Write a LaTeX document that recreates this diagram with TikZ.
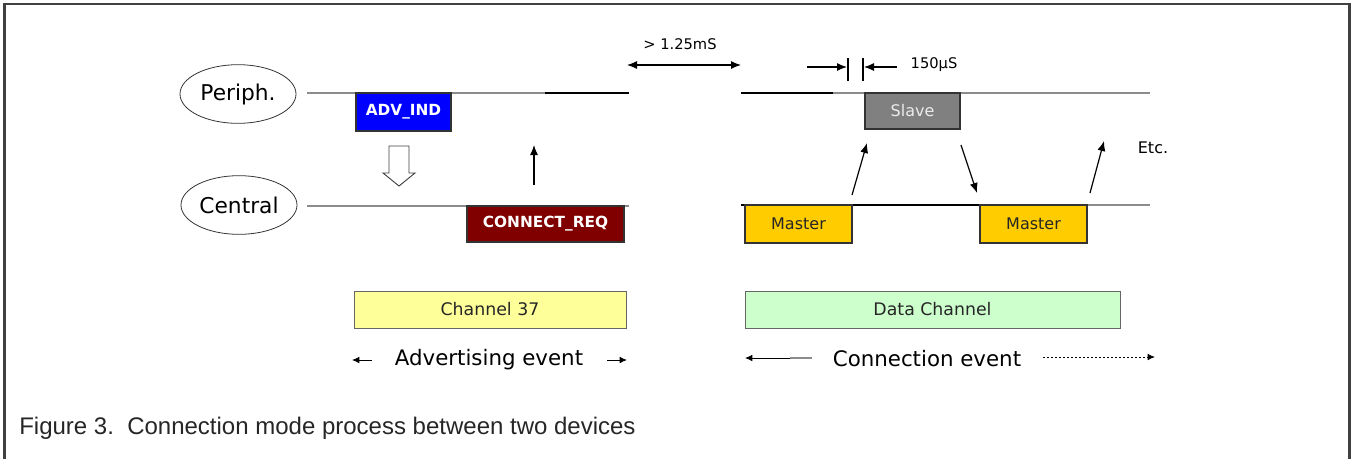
\documentclass[tikz,border=0pt]{standalone}
\usepackage{fontspec}
\setmainfont{DejaVu Sans}
\newfontfamily\capfont{Liberation Sans}
\usetikzlibrary{shapes.geometric,arrows.meta}
\definecolor{frame}{HTML}{404040}
\definecolor{tl}{HTML}{8C8C8C}
\definecolor{advblue}{HTML}{0000FF}
\definecolor{reqred}{HTML}{800000}
\definecolor{slavegray}{HTML}{808080}
\definecolor{mastery}{HTML}{FFCC00}
\definecolor{ch37}{HTML}{FFFF99}
\definecolor{datach}{HTML}{CCFFCC}
\tikzset{
  devell/.style={draw=black!80, ellipse, line width=0.6pt, minimum width=87pt, minimum height=44pt, inner sep=0pt, font=\fontsize{16.3}{18}\selectfont},
  pkt/.style={draw=black!80, line width=0.9pt, inner sep=0pt, font=\fontsize{12}{14}\selectfont},
  bpkt/.style={pkt, font=\fontsize{11.5}{13}\bfseries\selectfont, text=white},
  chbox/.style={draw=black!60, line width=0.7pt, inner sep=0pt, minimum height=27.75pt, font=\fontsize{13}{15}\selectfont, text=black!85},
  tline/.style={draw=tl, line width=1.1pt},
  bline/.style={draw=black, line width=1.1pt},
  arr/.style={line width=0.9pt, -{Latex[length=7.5pt,width=6pt]}},
  darr/.style={line width=0.9pt, {Latex[length=7.5pt,width=6pt]}-{Latex[length=7.5pt,width=6pt]}},
  sarr/.style={line width=0.7pt, -{Latex[length=5.5pt,width=5pt]}},
  lbl/.style={inner sep=0pt, font=\fontsize{11}{13}\selectfont},
  evlbl/.style={inner sep=0pt, font=\fontsize{16}{18}\selectfont}
}
\begin{document}
\begin{tikzpicture}[x=0.75pt,y=-0.75pt]
\useasboundingbox (0,0) rectangle (1352,458);
% frame
\draw[frame, line width=2pt] (4.5,460) -- (4.5,4) -- (1349.5,4) -- (1349.5,460);

% device ellipses
\node[devell] (periph) at (238,94) {Periph.};
\node[devell] (central) at (239,205) {Central};

% timelines
\coordinate (pa) at (307,93);
\coordinate (pb) at (545,93);
\coordinate (pc) at (629,93);
\coordinate (pd) at (741,93);
\coordinate (pe) at (833,93);
\coordinate (pf) at (1150,93);
\coordinate (ca) at (307,206);
\coordinate (cb) at (629,206);
\coordinate (cd) at (741,205);
\coordinate (ce) at (1040,205);
\coordinate (cf) at (1150,205);
\draw[tline] (pa) -- (pb);
\draw[bline] (pb) -- (pc);
\draw[bline] (pd) -- (pe);
\draw[tline] (pe) -- (pf);
\draw[tline] (ca) -- (cb);
\draw[bline] (cd) -- (ce);
\draw[tline] (ce) -- (cf);

% packets
\node[bpkt, fill=advblue, minimum width=71.25pt, minimum height=28.5pt] (adv) at (403.5,112) {ADV\_IND};
\node[bpkt, fill=reqred, minimum width=117.75pt, minimum height=27pt] (req) at (545.5,224) {CONNECT\_REQ};
\node[pkt, fill=slavegray, text=white!92!black, minimum width=71.25pt, minimum height=27pt] (slave) at (912.5,111) {Slave};
\node[pkt, fill=mastery, text=black!85, minimum width=80.25pt, minimum height=28.5pt] (m1) at (798.5,224) {Master};
\node[pkt, fill=mastery, text=black!85, minimum width=80.25pt, minimum height=28.5pt] (m2) at (1033.5,224) {Master};

% hollow down arrow
\draw[black!75, line width=0.7pt, fill=white] (389,146) -- (409,146) -- (409,173) -- (415,173) -- (399,186) -- (383,173) -- (389,173) -- cycle;

% up arrow
\coordinate (ua) at (534,185);
\coordinate (ub) at (534,145);
\draw[arr] (ua) -- (ub);

% > 1.25mS
\coordinate (ga) at (627,65);
\coordinate (gb) at (741,65);
\draw[darr] (ga) -- (gb);
\node[lbl] (gap) at (680,44) {> 1.25mS};

% 150 us
\coordinate (t1a) at (807,67);
\coordinate (t1b) at (847,67);
\coordinate (t2a) at (897,67);
\coordinate (t2b) at (864,67);
\coordinate (k1a) at (848,58);
\coordinate (k1b) at (848,81);
\coordinate (k2a) at (863,58);
\coordinate (k2b) at (863,81);
\draw[arr] (t1a) -- (t1b);
\draw[arr] (t2a) -- (t2b);
\draw[line width=0.9pt] (k1a) -- (k1b);
\draw[line width=0.9pt] (k2a) -- (k2b);
\node[lbl] (ifs) at (934,65) {150μS};

% exchange arrows
\coordinate (x1a) at (852,195);
\coordinate (x1b) at (867,143);
\coordinate (x2a) at (961,145);
\coordinate (x2b) at (977,193);
\coordinate (x3a) at (1090,193);
\coordinate (x3b) at (1104,141);
\draw[arr] (x1a) -- (x1b);
\draw[arr] (x2a) -- (x2b);
\draw[arr] (x3a) -- (x3b);
\node[inner sep=0pt, font=\fontsize{12}{14}\selectfont] (etc) at (1153,148) {Etc.};

% channel boxes
\node[chbox, fill=ch37, minimum width=204pt] (c37) at (490,309.5) {Channel 37};
\node[chbox, fill=datach, minimum width=281.25pt] (dch) at (932.5,309.5) {Data Channel};

% event labels
\node[evlbl] (adve) at (489,360) {Advertising event};
\coordinate (aL1) at (372,360);
\coordinate (aL2) at (352,360);
\coordinate (aR1) at (607,360);
\coordinate (aR2) at (627,360);
\draw[sarr] (aL1) -- (aL2);
\draw[sarr] (aR1) -- (aR2);

\node[evlbl] (cone) at (927,359) {Connection event};
\coordinate (cL0) at (812,358);
\coordinate (cL1) at (790,358);
\coordinate (cL2) at (745,358);
\coordinate (cR1) at (1043,357);
\coordinate (cR2) at (1155,357);
\draw[tl, line width=0.9pt] (cL0) -- (cL1);
\draw[sarr] (cL1) -- (cL2);
\draw[sarr, dash pattern=on 1.5pt off 1.5pt] (cR1) -- (cR2);

% caption
\node[anchor=west, inner sep=0pt, text=black!85, font=\capfont\fontsize{18}{21}\selectfont] (cap) at (19,428) {Figure 3.\ \ Connection mode process between two devices};
\end{tikzpicture}
\end{document}
